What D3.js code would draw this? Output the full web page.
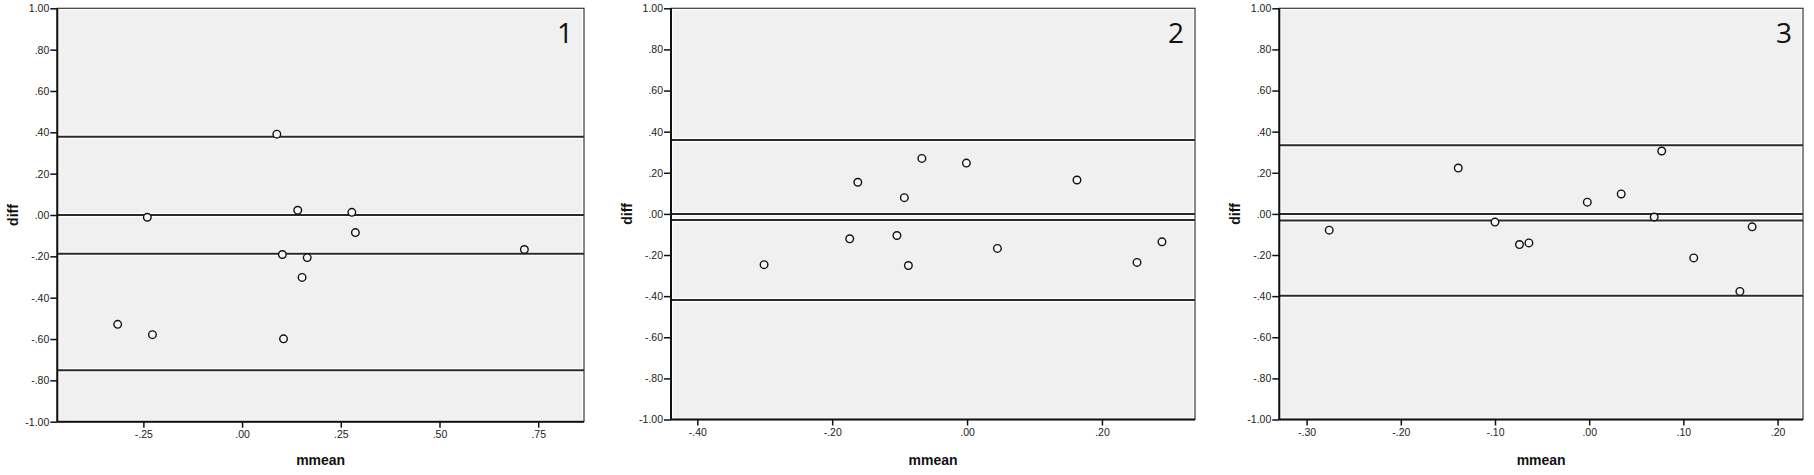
<!DOCTYPE html>
<html>
<head>
<meta charset="utf-8">
<script src="https://cdn.jsdelivr.net/npm/d3@7"></script>
<style>
  body { margin: 0; background: #fff; }
  svg { display: block; }
</style>
</head>
<body>
<div id="chart"></div>
<script>
// Bland-Altman style panels: mmean vs diff
const panelNames = ["1", "2", "3"];

const mmean1 = [0.088, -0.240, 0.141, 0.278, 0.287, 0.102, 0.165, 0.152, 0.715, -0.315, -0.227, 0.105];
const diff1  = [0.391, -0.011, 0.023, 0.013, -0.085, -0.191, -0.206, -0.302, -0.167, -0.529, -0.579, -0.599];
const refLines1 = [0.378, 0, -0.187, -0.751];
const xDomain1 = [-0.468, 0.866];
const xTicks1 = [-0.25, 0, 0.25, 0.5, 0.75];

const mmean2 = [-0.301, -0.174, -0.162, -0.104, -0.093, -0.087, -0.067, -0.001, 0.045, 0.163, 0.252, 0.289];
const diff2  = [-0.247, -0.121, 0.154, -0.105, 0.079, -0.251, 0.270, 0.247, -0.168, 0.165, -0.236, -0.136];
const refLines2 = [0.359, 0, -0.030, -0.419];
const xDomain2 = [-0.439, 0.338];
const xTicks2 = [-0.4, -0.2, 0, 0.2];

const mmean3 = [-0.276, -0.139, -0.100, -0.074, -0.064, -0.002, 0.034, 0.069, 0.077, 0.111, 0.160, 0.173];
const diff3  = [-0.079, 0.223, -0.040, -0.149, -0.141, 0.057, 0.097, -0.015, 0.306, -0.214, -0.377, -0.063];
const refLines3 = [0.334, 0, -0.032, -0.398];
const xDomain3 = [-0.329, 0.227];
const xTicks3 = [-0.3, -0.2, -0.1, 0, 0.1, 0.2];

const yDomain = [-1, 1];
const yTicks = [1, 0.8, 0.6, 0.4, 0.2, 0, -0.2, -0.4, -0.6, -0.8, -1];

const W = 1814, H = 475;
const panelLeft = [57.3, 671, 1279.3];
const panelRight = [584, 1195, 1803];
const panelTop = 8.3;
const panelBottom = [421.7, 419.5, 419.5];

const FONT = "Arial, 'Liberation Sans', sans-serif";

let svg = d3.select("#chart")
  .append("svg")
    .attr("width", W)
    .attr("height", H);

// SPSS style labels: ".25", "-.40", "1.00"
function fmt(v){
  let s = d3.format(".2f")(v).replace("\u2212", "-");
  return s.replace(/^(-?)0\./, "$1.");
}

function drawPanel(i, xs, ys, lines, xDomain, xTicks){
  let left = panelLeft[i], right = panelRight[i], bottom = panelBottom[i];
  let x = d3.scaleLinear().domain(xDomain).range([left, right]);
  let y = d3.scaleLinear().domain(yDomain).range([bottom, panelTop]);
  let g = svg.append("g").attr("class", "panel" + (i+1));

  // plot area, white inset then grey fill
  g.append("rect")
    .attr("x", left).attr("y", panelTop)
    .attr("width", right - left).attr("height", bottom - panelTop)
    .attr("fill", "#ffffff");
  g.append("rect")
    .attr("x", left + 2).attr("y", panelTop + 2)
    .attr("width", right - left - 4).attr("height", bottom - panelTop - 4)
    .attr("fill", "#f0f0f0");

  // reference lines
  g.selectAll(".halo")
    .data(lines)
    .enter().append("line")
      .attr("class", "halo")
      .attr("x1", left + 1).attr("x2", right - 1)
      .attr("y1", d => y(d)).attr("y2", d => y(d))
      .attr("stroke", "#ffffff")
      .attr("stroke-width", 4.5);
  g.selectAll(".refLine")
    .data(lines)
    .enter().append("line")
      .attr("class", "refLine")
      .attr("x1", left).attr("x2", right)
      .attr("y1", d => y(d)).attr("y2", d => y(d))
      .attr("stroke", "#2a2a2a")
      .attr("stroke-width", 2);

  // frame (top/right)
  g.append("rect")
    .attr("x", left).attr("y", panelTop)
    .attr("width", right - left).attr("height", bottom - panelTop)
    .attr("fill", "none")
    .attr("stroke", "#3a3a3a")
    .attr("stroke-width", 1.2);

  // points
  g.selectAll("circle")
    .data(xs)
    .enter().append("circle")
      .attr("cx", d => x(d))
      .attr("cy", (d, j) => y(ys[j]))
      .attr("r", 3.8)
      .attr("fill", "#f7f7f7")
      .attr("stroke", "#111")
      .attr("stroke-width", 1.4);

  // axes
  let xAxis = d3.axisBottom(x).tickValues(xTicks).tickFormat(fmt).tickSize(6).tickPadding(3);
  let yAxis = d3.axisLeft(y).tickValues(yTicks).tickFormat(fmt).tickSize(7).tickPadding(1);

  let gx = g.append("g")
    .attr("transform", "translate(0," + bottom + ")")
    .call(xAxis);
  let gy = g.append("g")
    .attr("transform", "translate(" + left + ",0)")
    .call(yAxis);

  gx.select(".domain").attr("d", "M" + left + ",0H" + right);
  gy.select(".domain").attr("d", "M0," + bottom + "V" + panelTop);

  [gx, gy].forEach(a => {
    a.select(".domain").attr("stroke", "#111").attr("stroke-width", 2);
    a.selectAll(".tick line").attr("stroke", "#111").attr("stroke-width", 1.5);
    a.selectAll(".tick text")
      .attr("fill", "#222")
      .style("font-family", FONT)
      .style("font-size", "10.5px");
  });

  // axis titles
  g.append("text")
    .text("mmean")
    .attr("x", (left + right) / 2)
    .attr("y", 465)
    .attr("text-anchor", "middle")
    .style("font-family", FONT)
    .style("font-weight", "bold")
    .style("font-size", "14px")
    .attr("fill", "#111");

  g.append("text")
    .text("diff")
    .attr("transform", "translate(" + (left - 39) + "," + y(0) + ") rotate(-90)")
    .attr("text-anchor", "middle")
    .style("font-family", FONT)
    .style("font-weight", "bold")
    .style("font-size", "14px")
    .attr("fill", "#111");

  // panel number
  g.append("text")
    .text(panelNames[i])
    .attr("x", right - 11)
    .attr("y", panelTop + 35)
    .attr("text-anchor", "end")
    .style("font-family", "'Open Sans', 'Noto Sans', sans-serif")
    .style("font-size", "28px")
    .attr("fill", "#111");
}

drawPanel(0, mmean1, diff1, refLines1, xDomain1, xTicks1);
drawPanel(1, mmean2, diff2, refLines2, xDomain2, xTicks2);
drawPanel(2, mmean3, diff3, refLines3, xDomain3, xTicks3);
</script>
</body>
</html>
